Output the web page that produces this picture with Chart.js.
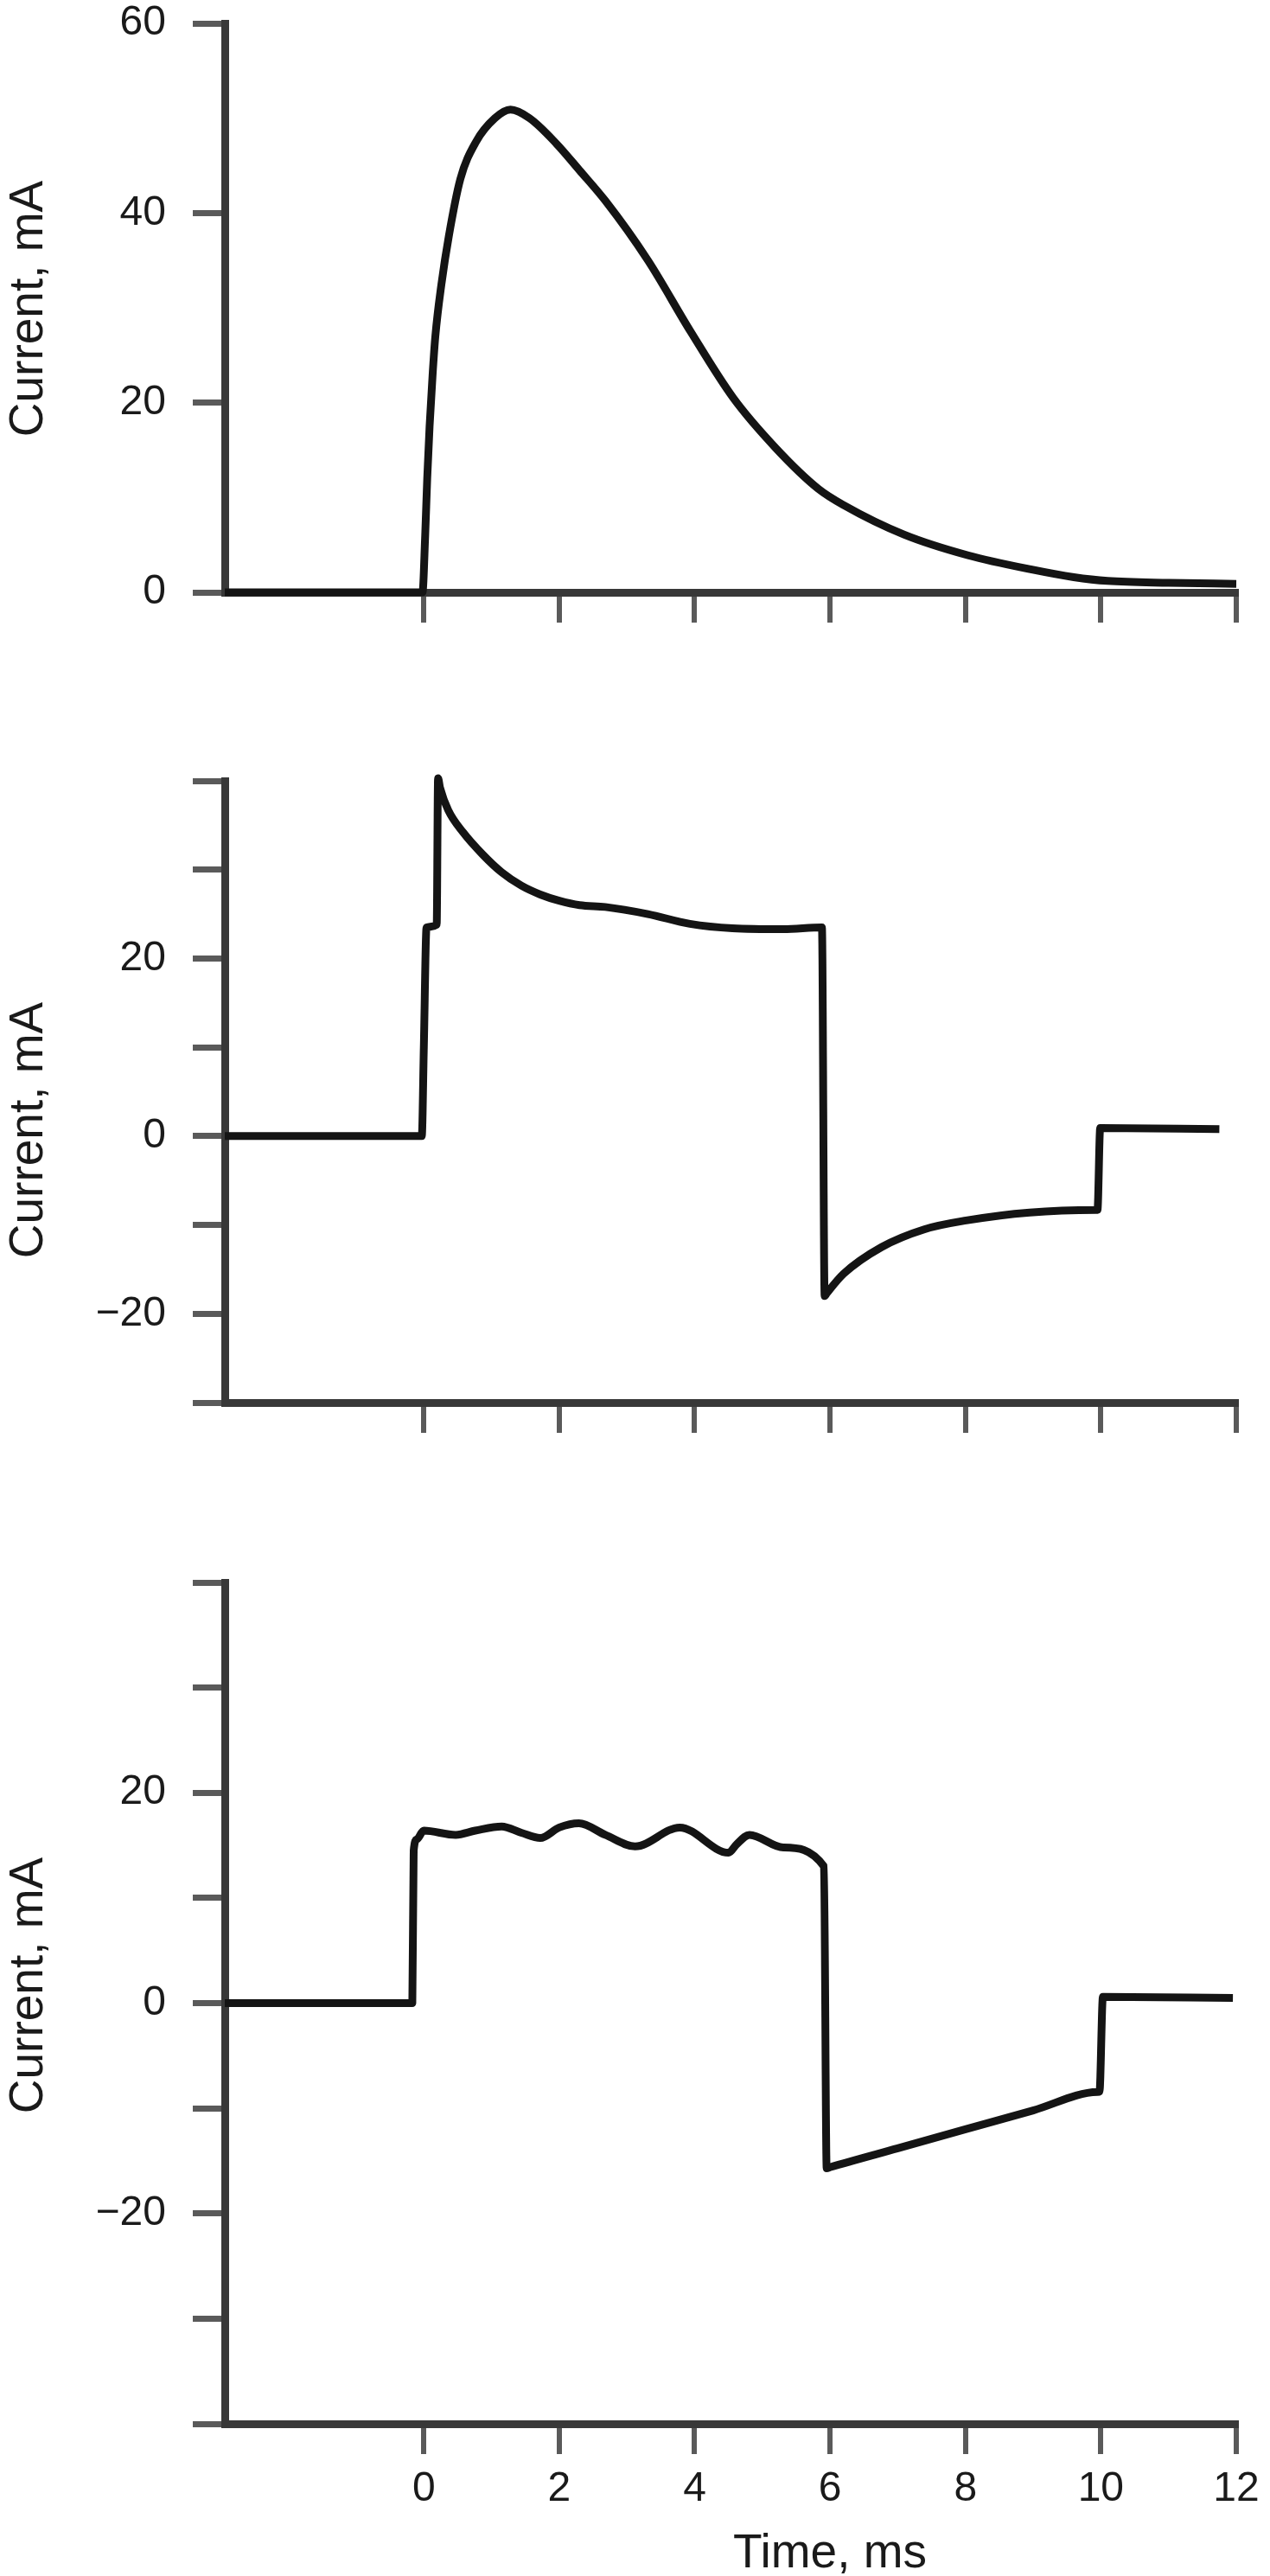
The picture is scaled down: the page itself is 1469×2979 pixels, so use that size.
<!DOCTYPE html>
<html>
<head>
<meta charset="utf-8">
<script src="https://cdn.jsdelivr.net/npm/chart.js@4.4.1/dist/chart.umd.min.js"></script>
<style>
  html, body { margin: 0; padding: 0; background: #ffffff; }
  #wrap { position: relative; width: 1469px; height: 2979px; background: #ffffff; }
  canvas { position: absolute; left: 0; }
</style>
</head>
<body>
<div id="wrap">
  <canvas id="c1" width="1469" height="740" style="top:0px"></canvas>
  <canvas id="c2" width="1469" height="817" style="top:860px"></canvas>
  <canvas id="c3" width="1469" height="1199" style="top:1780px"></canvas>
</div>
<script>
// ---------- DATA ----------
const timeTicks = [0, 2, 4, 6, 8, 10, 12];
const timeMin = -2.94;
const timeMax = 12;

// Panel 1
const p1Time    = [-2.94, -0.02, 0.02, 0.05, 0.085, 0.13, 0.17, 0.26, 0.37, 0.54, 0.77, 1.05, 1.28, 1.56, 1.96, 2.3, 2.68, 3.31, 3.94, 4.57, 5.2, 5.83, 6.2, 7.09, 8.04, 8.98, 9.6, 10.1, 11.0, 12.0];
const p1Current = [0, 0, 6, 12, 17.5, 23, 27, 32.5, 37.6, 43.6, 47.5, 50, 50.9, 50, 47.3, 44.5, 41.3, 35, 27.5, 20.5, 15.2, 10.9, 9.2, 6.1, 3.9, 2.4, 1.6, 1.2, 1.0, 0.9];
const p1YTicks  = [0, 20, 40, 60];
const p1YLabels = ['0', '20', '40', '60'];

// Panel 2
const p2Time    = [-2.94, -0.03, 0.0, 0.04, 0.19, 0.21, 0.24, 0.36, 0.58, 0.87, 1.15, 1.44, 1.72, 2.0, 2.3, 2.68, 3.31, 3.93, 4.56, 5.31, 5.88, 5.92, 5.95, 6.2, 6.76, 7.39, 8.01, 8.95, 9.93, 9.95, 9.99, 11.75];
const p2Current = [0, 0, 10, 23.5, 23.8, 40.3, 39.2, 36.7, 34.2, 31.7, 29.7, 28.2, 27.2, 26.5, 26.0, 25.8, 25.0, 23.9, 23.4, 23.3, 23.5, -18.0, -17.7, -15.5, -12.5, -10.5, -9.5, -8.6, -8.32, -8.3, 0.9, 0.8];
const p2YTicks  = [-30, -20, -10, 0, 10, 20, 30, 40];
const p2YLabels = ['', '\u221220', '', '0', '', '20', '', ''];

// Panel 3
const p3Time    = [-2.94, -0.17, -0.15, -0.1, 0.0, 0.47, 0.76, 1.15, 1.44, 1.72, 2.0, 2.29, 2.68, 3.12, 3.78, 4.5, 4.62, 4.81, 5.31, 5.91, 5.95, 6.0, 7.0, 8.0, 9.0, 9.95, 9.98, 10.03, 11.95];
const p3Current = [0, 0, 14.5, 15.6, 16.4, 16.0, 16.4, 16.8, 16.2, 15.7, 16.7, 17.1, 16.0, 14.9, 16.7, 14.3, 15.1, 16.0, 14.8, 13.0, -15.7, -15.6, -13.8, -12.0, -10.2, -8.45, -8.4, 0.6, 0.5];
const p3YTicks  = [-40, -30, -20, -10, 0, 10, 20, 30, 40];
const p3YLabels = ['', '', '\u221220', '', '0', '', '20', '', ''];

const yTitle = 'Current, mA';
const xTitle = 'Time, ms';

// ---------- STYLE ----------
const FONT = "'Liberation Sans', Arial, Helvetica, sans-serif";
const TEXT_COLOR = '#1a1a1a';
const AXIS_COLOR = '#383838';
const TICK_COLOR = '#5a5a5a';
const LINE_COLOR = '#141414';

const freeText = {
  id: 'freeText',
  afterDraw(chart, args, opts) {
    const ctx = chart.ctx;
    (opts.items || []).forEach(it => {
      ctx.save();
      ctx.font = it.font;
      ctx.fillStyle = it.color;
      ctx.textAlign = 'center';
      ctx.textBaseline = 'alphabetic';
      ctx.translate(it.x, it.y);
      if (it.rotate) ctx.rotate(it.rotate);
      ctx.fillText(it.text, 0, 0);
      ctx.restore();
    });
  }
};

function makeChart(id, times, values, yTicks, yLabels, yMin, yMax, padTop, xAxisHeight, showXLabels, texts) {
  const pts = times.map((t, i) => ({ x: t, y: values[i] }));
  return new Chart(document.getElementById(id), {
    type: 'line',
    data: {
      datasets: [{
        data: pts,
        borderColor: LINE_COLOR,
        borderWidth: 9,
        pointRadius: 0,
        cubicInterpolationMode: 'monotone',
        clip: false,
        borderJoinStyle: 'round',
        borderCapStyle: 'butt',
        fill: false
      }]
    },
    options: {
      responsive: false,
      animation: false,
      devicePixelRatio: 1,
      layout: { padding: { top: padTop, right: 39, left: 0, bottom: 0 } },
      plugins: {
        legend: { display: false },
        tooltip: { enabled: false },
        freeText: { items: texts }
      },
      scales: {
        x: {
          type: 'linear',
          min: timeMin,
          max: timeMax,
          afterBuildTicks: s => { s.ticks = timeTicks.map(v => ({ value: v })); },
          afterFit: s => { s.height = xAxisHeight; s.paddingLeft = 0; s.paddingRight = 0; },
          grid: { drawOnChartArea: false, drawTicks: true, tickLength: 35, tickWidth: 6, lineWidth: 6, tickColor: TICK_COLOR, color: TICK_COLOR },
          border: { display: true, width: 9, color: AXIS_COLOR },
          ticks: {
            display: showXLabels,
            padding: 12,
            autoSkip: false,
            maxRotation: 0,
            color: TEXT_COLOR,
            font: { family: FONT, size: 48 },
            callback: v => String(v)
          }
        },
        y: {
          type: 'linear',
          min: yMin,
          max: yMax,
          afterBuildTicks: s => { s.ticks = yTicks.map(v => ({ value: v })); },
          afterFit: s => { s.width = 260; s.paddingTop = 0; s.paddingBottom = 0; },
          grid: { drawOnChartArea: false, drawTicks: true, tickLength: 37, tickWidth: 7, lineWidth: 7, tickColor: TICK_COLOR, color: TICK_COLOR },
          border: { display: true, width: 9, color: AXIS_COLOR },
          ticks: {
            padding: 31,
            autoSkip: false,
            color: TEXT_COLOR,
            font: { family: FONT, size: 48 },
            callback: v => { const k = yTicks.indexOf(v); return k >= 0 ? yLabels[k] : ''; }
          }
        }
      }
    },
    plugins: [freeText]
  });
}

const titleFont = "55px " + FONT;
const rot = -Math.PI / 2;

makeChart('c1', p1Time, p1Current, p1YTicks, p1YLabels, 0, 60, 27, 55, false,
  [{ text: yTitle, x: 49, y: 357, rotate: rot, font: titleFont, color: TEXT_COLOR }]);

makeChart('c2', p2Time, p2Current, p2YTicks, p2YLabels, -30, 40, 43, 55, false,
  [{ text: yTitle, x: 49, y: 447, rotate: rot, font: titleFont, color: TEXT_COLOR }]);

makeChart('c3', p3Time, p3Current, p3YTicks, p3YLabels, -40, 40, 50, 176, true,
  [{ text: yTitle, x: 49, y: 516, rotate: rot, font: titleFont, color: TEXT_COLOR },
   { text: xTitle, x: 960, y: 1189, rotate: 0, font: titleFont, color: TEXT_COLOR }]);
</script>
</body>
</html>
